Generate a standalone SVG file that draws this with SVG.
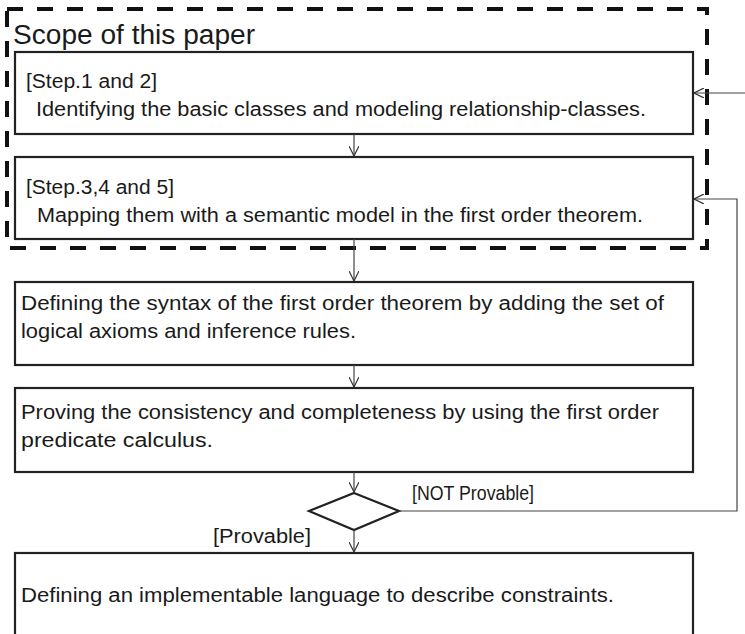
<svg xmlns="http://www.w3.org/2000/svg" width="745" height="634" viewBox="0 0 745 634">
  <style>
    .box { fill: #fff; stroke: #222; stroke-width: 2.2; }
    .scope { fill: none; stroke: #111; stroke-width: 4; stroke-dasharray: 16 14; }
    .conn { fill: none; stroke: #444; stroke-width: 1.2; }
    .txt { font-family: "Liberation Sans", Arial, sans-serif; font-size: 19.5px; fill: #1a1a1a; }
    .title { font-family: "Liberation Sans", Arial, sans-serif; font-size: 27px; fill: #1a1a1a; }
  </style>
  <defs>
    <marker id="open" viewBox="0 0 10 10" refX="10" refY="5" markerWidth="10" markerHeight="10" markerUnits="userSpaceOnUse" orient="auto">
      <path d="M0,0 L10,5 L0,10" fill="none" stroke="#333" stroke-width="1.2"/>
    </marker>
  </defs>

  <!-- scope boundary -->
  <g id="scope">
    <rect class="scope" x="7" y="9" width="700" height="239"/>
    <text class="title" x="13" y="44" textLength="242" lengthAdjust="spacingAndGlyphs">Scope of this paper</text>
  </g>

  <g id="step12">
    <rect class="box" x="15" y="52" width="678" height="82"/>
    <text class="txt" x="26" y="88" textLength="131" lengthAdjust="spacingAndGlyphs">[Step.1 and 2]</text>
    <text class="txt" x="36" y="116" textLength="610" lengthAdjust="spacingAndGlyphs">Identifying the basic classes and modeling relationship-classes.</text>
  </g>

  <g id="step345">
    <rect class="box" x="15" y="157" width="678" height="82"/>
    <text class="txt" x="26" y="194" textLength="148" lengthAdjust="spacingAndGlyphs">[Step.3,4 and 5]</text>
    <text class="txt" x="37" y="222" textLength="606" lengthAdjust="spacingAndGlyphs">Mapping them with a semantic model in the first order theorem.</text>
  </g>

  <g id="syntax">
    <rect class="box" x="15" y="282" width="678" height="83"/>
    <text class="txt" x="21" y="310" textLength="643" lengthAdjust="spacingAndGlyphs">Defining the syntax of the first order theorem by adding the set of</text>
    <text class="txt" x="21" y="338" textLength="335" lengthAdjust="spacingAndGlyphs">logical axioms and inference rules.</text>
  </g>

  <g id="proof">
    <rect class="box" x="15" y="388" width="678" height="84"/>
    <text class="txt" x="21" y="419" textLength="638" lengthAdjust="spacingAndGlyphs">Proving the consistency and completeness by using the first order</text>
    <text class="txt" x="21" y="447" textLength="192" lengthAdjust="spacingAndGlyphs">predicate calculus.</text>
  </g>

  <g id="decision">
    <polygon points="354,493 399,511 354,530 309,511" fill="#fff" stroke="#222" stroke-width="2.2"/>
  </g>

  <g id="language">
    <rect class="box" x="15" y="553" width="678" height="100"/>
    <text class="txt" x="21" y="602" textLength="593" lengthAdjust="spacingAndGlyphs">Defining an implementable language to describe constraints.</text>
  </g>

  <g id="connectors">
    <line class="conn" x1="745" y1="93" x2="694" y2="93" marker-end="url(#open)"/>
    <line class="conn" x1="354" y1="134" x2="354" y2="156" marker-end="url(#open)"/>
    <line class="conn" x1="354" y1="239" x2="354" y2="281" marker-end="url(#open)"/>
    <line class="conn" x1="354" y1="365" x2="354" y2="387" marker-end="url(#open)"/>
    <line class="conn" x1="354" y1="472" x2="354" y2="492" marker-end="url(#open)"/>
    <line class="conn" x1="354" y1="530" x2="354" y2="552" marker-end="url(#open)"/>
    <polyline class="conn" points="399,511 737,511 737,199 694,199" marker-end="url(#open)"/>
    <text class="txt" x="412" y="500" textLength="122" lengthAdjust="spacingAndGlyphs">[NOT Provable]</text>
    <text class="txt" x="213" y="543" textLength="98" lengthAdjust="spacingAndGlyphs">[Provable]</text>
  </g>
</svg>
